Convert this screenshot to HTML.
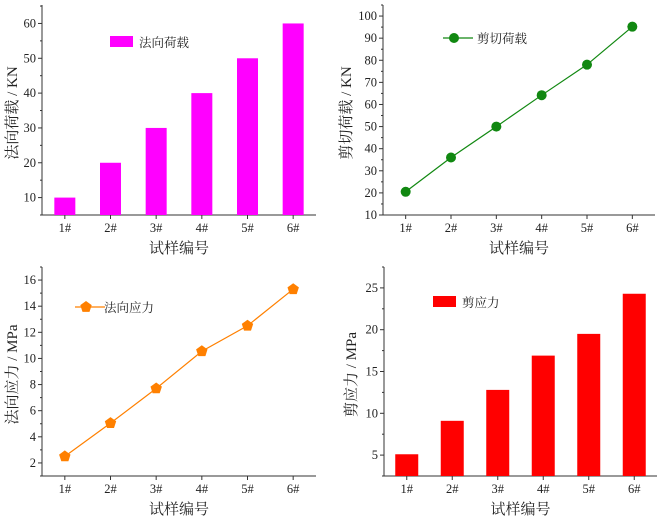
<!DOCTYPE html>
<html><head><meta charset="utf-8"><style>
body{margin:0;background:#fff}
svg text{font-family:"Liberation Serif","Noto Serif CJK SC",serif;fill:#222}
</style></head><body>
<svg id="s" width="661" height="522"></svg>
<script>
const categories=["1#","2#","3#","4#","5#","6#"];
const normalLoad=[10,20,30,40,50,60];
const shearLoad=[20.5,36,50,64.2,78,95.2];
const normalStress=[2.5,5.05,7.7,10.55,12.5,15.3];
const shearStress=[5.1,9.1,12.8,16.9,19.5,24.3];
const ticks1=[10,20,30,40,50,60];
const ticks2=[10,20,30,40,50,60,70,80,90,100];
const ticks3=[2,4,6,8,10,12,14,16];
const ticks4=[5,10,15,20,25];
const NS="http://www.w3.org/2000/svg";
const svg=document.getElementById('s');
function el(t,a,p){const e=document.createElementNS(NS,t);for(const k in a)e.setAttribute(k,a[k]);(p||svg).appendChild(e);return e;}
function panel(o){
 const g=el('g',{});
 
 
 const L=o.x0,R=o.x1,B=o.yb,T=o.yt;
 const n=categories.length;
 const xs=i=>L+(i+0.5)*(R-L)/n;
 const ys=v=>B-(v-o.ymin)/(o.ymax-o.ymin)*(B-T);
 const ax=el('path',{d:`M${L},${T}V${B}H${R}`,stroke:'#333','stroke-width':1,fill:'none'},g);
 
 const step=o.ticks[1]-o.ticks[0];
 o.ticks.forEach(v=>{
  const y=ys(v);
  el('line',{x1:L-4,x2:L,y1:y,y2:y,stroke:'#333'},g);
  const m=ys(v+step/2); if(m>=T) el('line',{x1:L-2,x2:L,y1:m,y2:m,stroke:'#333'},g);
  const m2=ys(v-step/2); if(m2<=B&&v===o.ticks[0]) el('line',{x1:L-2,x2:L,y1:m2,y2:m2,stroke:'#333'},g);
  const t=el('text',{x:L-6,y:y+4,'font-size':12.5,'text-anchor':'end'},g);t.textContent=v;
  
 });
 categories.forEach((c,i)=>{
  const x=xs(i);
  el('line',{x1:x,x2:x,y1:B,y2:B+4,stroke:'#333'},g);
  const t=el('text',{x:x,y:B+17,'font-size':12.5,'text-anchor':'middle'},g);t.textContent=c;
  
 });
 const xt=el('text',{x:(L+R)/2,y:B+38,'font-size':15,'text-anchor':'middle'},g);xt.textContent='试样编号';
 
 const yt=el('text',{x:0,y:0,'font-size':15,'text-anchor':'middle',transform:`translate(${o.ytx},${(T+B)/2+3}) rotate(-90)`},g);yt.textContent=o.ytitle;
 
 if(o.type==='bar'){
  o.data.forEach((v,i)=>{
   const r=el('rect',{x:xs(i)-o.bw/2,y:ys(v),width:o.bw,height:B-ys(v),fill:o.color},g);
   
  });
  const lr=el('rect',{x:o.lx,y:o.ly-6,width:23,height:11,fill:o.color},g);
  
 } else {
  const p=el('polyline',{points:o.data.map((v,i)=>xs(i)+','+ys(v)).join(' '),fill:'none',stroke:o.color,'stroke-width':1.2},g);
  
  const mk=(x,y)=>{
   if(o.marker==='circle') return el('circle',{cx:x,cy:y,r:5,fill:o.color},g);
   let pts=[];for(let k=0;k<5;k++){const a=-Math.PI/2+k*2*Math.PI/5;pts.push((x+6*Math.cos(a)).toFixed(1)+','+(y+6*Math.sin(a)).toFixed(1));}
   return el('polygon',{points:pts.join(' '),fill:o.color},g);
  };
  o.data.forEach((v,i)=>{const m=mk(xs(i),ys(v));});
  const ll=el('line',{x1:o.lx,x2:o.lx+30,y1:o.ly,y2:o.ly,stroke:o.color,'stroke-width':1.2},g);
  
  const lm=mk(o.lx+11,o.ly);
 }
 const lt=el('text',{x:o.ltx,y:o.ly+5,'font-size':12.5},g);lt.textContent=o.label;
 
}
panel({name:'normal-load-chart',x0:42,x1:316,yb:215,yt:5,ymin:5,ymax:65.3,ticks:ticks1,data:normalLoad,type:'bar',bw:21,color:'#ff00ff',lx:110,ly:42,ltx:139,label:'法向荷载',ytitle:'法向荷载 / KN',ytx:17});
panel({name:'shear-load-chart',x0:383,x1:655,yb:215,yt:5,ymin:10,ymax:105,ticks:ticks2,data:shearLoad,type:'line',marker:'circle',color:'#118811',lx:443,ly:38,ltx:477,label:'剪切荷载',ytitle:'剪切荷载 / KN',ytx:351});
panel({name:'normal-stress-chart',x0:42,x1:316,yb:476,yt:267,ymin:1,ymax:17,ticks:ticks3,data:normalStress,type:'line',marker:'pentagon',color:'#ff8000',lx:75,ly:307,ltx:104,label:'法向应力',ytitle:'法向应力 / MPa',ytx:17});
panel({name:'shear-stress-chart',x0:384,x1:657,yb:476,yt:267,ymin:2.5,ymax:27.5,ticks:ticks4,data:shearStress,type:'bar',bw:23,color:'#ff0000',lx:433,ly:302,ltx:462,label:'剪应力',ytitle:'剪应力 / MPa',ytx:356});
</script>
</body></html>
